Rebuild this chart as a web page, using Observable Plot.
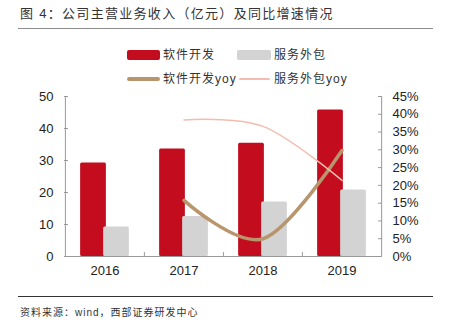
<!DOCTYPE html>
<html><head><meta charset="utf-8">
<script src="https://cdn.jsdelivr.net/npm/d3@7"></script>
<script src="https://cdn.jsdelivr.net/npm/@observablehq/plot@0.6"></script>
<style>
body{margin:0;background:#fff;}
#wrap{position:relative;width:449px;height:329px;overflow:hidden;font-family:"Liberation Sans","Noto Sans CJK SC",sans-serif;}
#title{position:absolute;left:20px;top:5px;font-size:13px;letter-spacing:1.3px;color:#333;line-height:18px;white-space:nowrap;}
#rule1{position:absolute;left:18px;top:28px;width:415px;height:0;border-top:1.5px solid #8c8c8c;}
#rule2{position:absolute;left:18px;top:296px;width:415px;height:0;border-top:1px solid #333;}
#caption{position:absolute;left:20px;top:305px;font-size:10px;letter-spacing:1px;color:#333;line-height:16px;white-space:nowrap;}
.sw{position:absolute;}
.lt{position:absolute;font-size:12px;letter-spacing:1px;color:#333;line-height:16px;white-space:nowrap;}
#chart{position:absolute;left:0;top:86px;}
</style>
</head><body>
<div id="wrap">
  <div id="title">图 4：公司主营业务收入（亿元）及同比增速情况</div>
  <div id="rule1"></div>
  <div id="legend"></div>
  <div id="chart"></div>
  <div id="rule2"></div>
  <div id="caption">资料来源：wind，西部证券研发中心</div>
</div>
<script>
const years = ["2016", "2017", "2018", "2019"];
const softwareRevenue = [29.2, 33.6, 35.4, 45.8];
const outsourcingRevenue = [9.2, 12.5, 17.0, 20.8];
const softwareYoY = [null, 15.8, 5.0, 29.8];
const outsourcingYoY = [null, 38.4, 36.6, 21.4];
const leftTicks = [0, 10, 20, 30, 40, 50];
const rightTicks = [0, 5, 10, 15, 20, 25, 30, 35, 40, 45];
const seriesNames = ["软件开发", "服务外包", "软件开发yoy", "服务外包yoy"];
const colors = ["#c30d1f", "#d3d3d3", "#b8956c", "#f2bdb0"];

const leftMax = 50, rightMax = 45;
const toLeft = p => p * leftMax / rightMax;

// legend
const legend = document.getElementById("legend");
const legendItems = [
  {name: seriesNames[0], color: colors[0], kind: "bar", sx: 127, sw: 33, tx: 163, cy: 55},
  {name: seriesNames[1], color: colors[1], kind: "bar", sx: 237, sw: 34, tx: 274, cy: 55},
  {name: seriesNames[2], color: colors[2], kind: "line3", sx: 127, sw: 33, tx: 163, cy: 79},
  {name: seriesNames[3], color: colors[3], kind: "line1", sx: 239, sw: 31, tx: 274, cy: 79}
];
for (const it of legendItems) {
  const s = document.createElement("div");
  s.className = "sw";
  const h = it.kind === "bar" ? 10 : it.kind === "line3" ? 3.5 : 1.5;
  s.style.cssText = `left:${it.sx}px;top:${it.cy - h/2}px;width:${it.sw}px;height:${h}px;background:${it.color};border-radius:2px;`;
  legend.appendChild(s);
  const t = document.createElement("div");
  t.className = "lt";
  t.textContent = it.name;
  t.style.left = it.tx + "px";
  t.style.top = (it.cy - 8) + "px";
  legend.appendChild(t);
}

const W = 449, H = 200, mL = 64, mR = 68, mT = 10, mB = 30;
const bw = (W - mL - mR) / years.length;
const barW = 26, off = 11.5;
const inset = (bw - barW) / 2;

const idx = years.map((d, i) => i);
const lineIdx = idx.filter(i => softwareYoY[i] != null);

const chart = Plot.plot({
  width: W, height: H,
  marginLeft: mL, marginRight: mR, marginTop: mT, marginBottom: mB,
  style: {fontFamily: "Liberation Sans, Arial, sans-serif", fontSize: "13px", color: "#222", background: "transparent", overflow: "visible"},
  x: {type: "band", domain: years, padding: 0},
  y: {domain: [0, leftMax]},
  marks: [
    Plot.barY(idx, {x: i => years[i], y: i => softwareRevenue[i], fill: colors[0], dx: -off, insetLeft: inset, insetRight: inset, rx: 1.5}),
    Plot.barY(idx, {x: i => years[i], y: i => outsourcingRevenue[i], fill: colors[1], dx: off, insetLeft: inset, insetRight: inset, rx: 1.5}),
    Plot.line(lineIdx, {x: i => years[i], y: i => toLeft(softwareYoY[i]), stroke: colors[2], strokeWidth: 3.5, curve: "cardinal"}),
    Plot.line(lineIdx, {x: i => years[i], y: i => toLeft(outsourcingYoY[i]), stroke: colors[3], strokeWidth: 1.5, curve: "cardinal"}),
    Plot.ruleY([0], {stroke: "#999"}),
    Plot.ruleX([years[0]], {dx: -bw / 2, stroke: "#999"}),
    Plot.ruleX([years[years.length - 1]], {dx: bw / 2, stroke: "#999"}),
    Plot.ruleX(years.slice(1), {dx: -bw / 2, stroke: "#999", insetTop: (H - mT - mB) - 4}),
    Plot.axisY(leftTicks, {anchor: "left", tickSize: -4, tickPadding: 15, stroke: "#999", fill: "#222", label: null}),
    Plot.axisY(rightTicks.map(toLeft), {anchor: "right", tickSize: -4, tickPadding: 15, stroke: "#999", fill: "#222", label: null, tickFormat: d => Math.round(d * rightMax / leftMax) + "%"}),
    Plot.axisX({tickSize: 0, tickPadding: 9, fill: "#222", label: null})
  ]
});
document.getElementById("chart").appendChild(chart);
</script>
</body></html>
